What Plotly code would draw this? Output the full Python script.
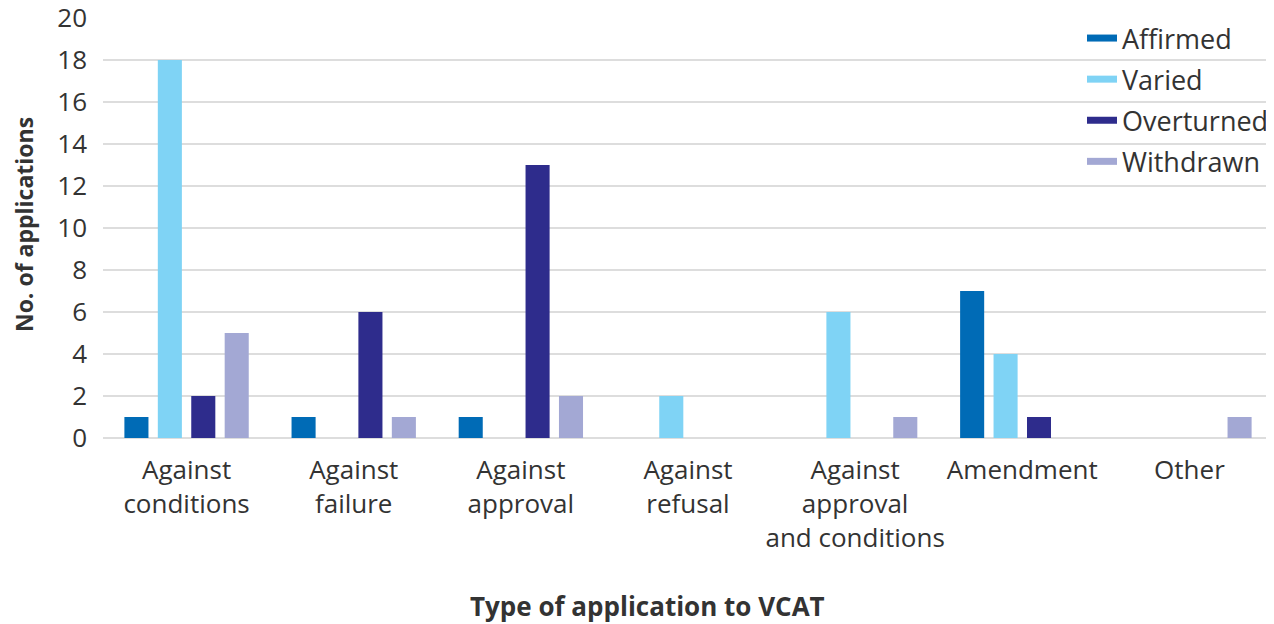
import plotly.graph_objects as go

categories = ["Against<br>conditions", "Against<br>failure", "Against<br>approval",
              "Against<br>refusal", "Against<br>approval<br>and conditions",
              "Amendment", "Other"]
affirmed = [1, 1, 1, 0, 0, 7, 0]
varied = [18, 0, 0, 2, 6, 4, 0]
overturned = [2, 6, 13, 0, 0, 1, 0]
withdrawn = [5, 1, 2, 0, 1, 0, 1]
y_ticks = list(range(0, 21, 2))

series = [
    ("Affirmed", affirmed, "#006BB6"),
    ("Varied", varied, "#7FD3F5"),
    ("Overturned", overturned, "#2E2C8C"),
    ("Withdrawn", withdrawn, "#A3A8D4"),
]

FONT = "Open Sans, sans-serif"

# the page body has an 8px margin, so the figure is drawn 8px in from the corner
OFF = 8
W, H = 1274 - OFF, 624 - OFF
L, T, B = 103 - OFF, 18 - OFF, 186
plot_w = W - L
plot_h = H - T - B

fig = go.Figure()
for name, vals, color in series:
    fig.add_trace(go.Bar(x=categories, y=vals, name=name, marker_color=color,
                         marker_line_width=0, showlegend=False))
# legend entries drawn as short flat bars
for name, vals, color in series:
    fig.add_trace(go.Scatter(x=[None], y=[None], mode="lines", name=name,
                             legendgroup=name,
                             line=dict(color=color, width=7)))

fig.update_layout(
    width=W, height=H,
    margin=dict(l=L, r=0, t=T, b=B),
    paper_bgcolor="white", plot_bgcolor="white",
    font=dict(family=FONT, size=26, color="#333"),
    barmode="group", bargap=0.2, bargroupgap=0.28,
    legend=dict(x=(1083 - 103) / plot_w, y=1.0 + 4 / plot_h,
                xanchor="left", yanchor="top",
                bgcolor="rgba(0,0,0,0)", font=dict(size=27), tracegroupgap=3,
                itemwidth=30),
    xaxis=dict(tickfont=dict(size=26), showline=False, ticks="",
               ticklabelstandoff=14, automargin=False),
    yaxis=dict(range=[0, 20], tickvals=y_ticks, tickfont=dict(size=26),
               showgrid=True, gridcolor="#dddddd", gridwidth=2,
               zeroline=True, zerolinecolor="#dddddd", zerolinewidth=2,
               ticks="", ticklen=0, ticklabelstandoff=15,
               ticklabeloverflow="allow", automargin=False),
    annotations=[
        dict(text="<b>Type of application to VCAT</b>",
             x=(648 - 103) / plot_w, y=(438 - 606) / plot_h,
             xref="paper", yref="paper", xanchor="center", yanchor="middle",
             showarrow=False, font=dict(size=26, color="#333")),
        dict(text="<b>No. of applications</b>",
             x=(24 - 103) / plot_w, y=(438 - 225) / plot_h, textangle=-90,
             xref="paper", yref="paper", xanchor="center", yanchor="middle",
             showarrow=False, font=dict(size=23, color="#333")),
    ],
)

fig.write_html("out.html")
